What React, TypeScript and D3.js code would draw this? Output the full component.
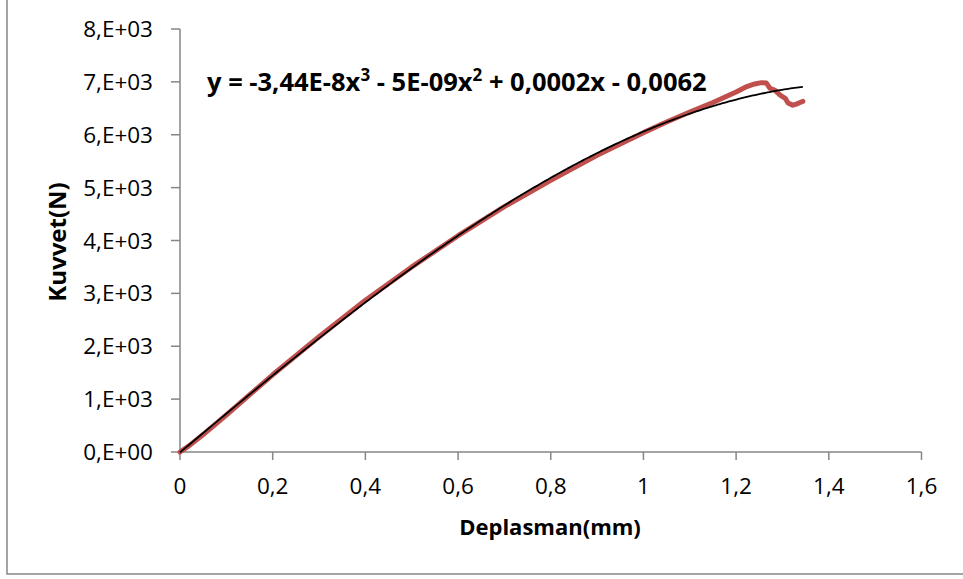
import React from "react";
import * as d3 from "d3";

// Measured series: displacement (mm) vs force (N)
const dispMm: number[] = [0, 0.02, 0.05, 0.1, 0.15, 0.2, 0.3, 0.4, 0.5, 0.6, 0.7, 0.8, 0.9, 1.0, 1.05, 1.1, 1.15, 1.2, 1.22, 1.24, 1.255, 1.265, 1.273, 1.284, 1.295, 1.306, 1.312, 1.322, 1.33, 1.338, 1.344];
const forceN: number[] = [0, 120, 330, 700, 1080, 1460, 2180, 2870, 3500, 4090, 4640, 5140, 5610, 6040, 6240, 6430, 6610, 6810, 6900, 6960, 6985, 6980, 6880, 6840, 6750, 6690, 6600, 6560, 6580, 6610, 6630];

const xTicks: number[] = [0, 0.2, 0.4, 0.6, 0.8, 1, 1.2, 1.4, 1.6];
const yTicks: number[] = [0, 1000, 2000, 3000, 4000, 5000, 6000, 7000, 8000];
const xTickLabels: string[] = ["0", "0,2", "0,4", "0,6", "0,8", "1", "1,2", "1,4", "1,6"];
const yTickLabels: string[] = ["0,E+00", "1,E+03", "2,E+03", "3,E+03", "4,E+03", "5,E+03", "6,E+03", "7,E+03", "8,E+03"];

const xTitle = "Deplasman(mm)";
const yTitle = "Kuvvet(N)";

// least-squares cubic trendline (as the spreadsheet computes it) over the resampled series
function cubicFit(xs: number[], ys: number[]): number[] {
  const n = 4;
  const A = Array.from({ length: n }, () => new Array(n + 1).fill(0));
  for (let k = 0; k < xs.length; k++) {
    const p = [1, xs[k], xs[k] ** 2, xs[k] ** 3];
    for (let i = 0; i < n; i++) {
      for (let j = 0; j < n; j++) A[i][j] += p[i] * p[j];
      A[i][n] += p[i] * ys[k];
    }
  }
  for (let i = 0; i < n; i++) {
    let piv = i;
    for (let r = i + 1; r < n; r++) if (Math.abs(A[r][i]) > Math.abs(A[piv][i])) piv = r;
    [A[i], A[piv]] = [A[piv], A[i]];
    for (let r = 0; r < n; r++) {
      if (r === i) continue;
      const f = A[r][i] / A[i][i];
      for (let c = i; c <= n; c++) A[r][c] -= f * A[i][c];
    }
  }
  return A.map((row, i) => row[n] / row[i]);
}

export default function App() {
  const W = 963, H = 579;
  const x = d3.scaleLinear().domain([0, 1.6]).range([180, 921.5]);
  const y = d3.scaleLinear().domain([0, 8000]).range([452, 29]);

  const interp = d3.scaleLinear().domain(dispMm).range(forceN);
  const xmax = dispMm[dispMm.length - 1];
  const rx = d3.range(0, 301).map(i => (i / 300) * xmax);
  const ry = rx.map(v => interp(v));
  const c = cubicFit(rx, ry);
  const trend = rx.map(v => [v, c[0] + c[1] * v + c[2] * v * v + c[3] * v * v * v] as [number, number]);

  const line = d3.line<[number, number]>().x(d => x(d[0])).y(d => y(d[1]));
  const dataPts = dispMm.map((v, i) => [v, forceN[i]] as [number, number]);

  const axisColor = "#868686";
  const font = "'Open Sans', Lato, sans-serif";

  return (
    <svg width={W} height={H} style={{ position: "absolute", left: 0, top: 0, background: "#fff" }}>
      <rect x={7} y={-10} width={990} height={584} fill="#fff" stroke={axisColor} strokeWidth={1.5} />
      {/* axes */}
      <line x1={x(0)} x2={x(0)} y1={y(8000)} y2={y(0)} stroke={axisColor} strokeWidth={1.5} />
      <line x1={x(0)} x2={x(1.6)} y1={y(0)} y2={y(0)} stroke={axisColor} strokeWidth={1.5} />
      {yTicks.map((t, i) => (
        <g key={"y" + i}>
          <line x1={x(0) - 9} x2={x(0)} y1={y(t)} y2={y(t)} stroke={axisColor} strokeWidth={1.5} />
          <text x={153} y={y(t) + 8} textAnchor="end" fontFamily={font} fontSize={22.5} fill="#000">{yTickLabels[i]}</text>
        </g>
      ))}
      {xTicks.map((t, i) => (
        <g key={"x" + i}>
          <line x1={x(t)} x2={x(t)} y1={y(0)} y2={y(0) + 8} stroke={axisColor} strokeWidth={1.5} />
          <text x={x(t)} y={494} textAnchor="middle" fontFamily={font} fontSize={22.5} fill="#000">{xTickLabels[i]}</text>
        </g>
      ))}
      {/* series */}
      <path d={line(dataPts) || ""} fill="none" stroke="#C0504D" strokeWidth={5} strokeLinejoin="round" strokeLinecap="round" />
      <path d={line(trend) || ""} fill="none" stroke="#000" strokeWidth={1.8} />
      {/* equation */}
      <text x={207} y={91} fontFamily={font} fontWeight="bold" fontSize={25.5} fill="#000">
        y = -3,44E-8x<tspan fontSize={17} dy={-10}>3</tspan><tspan dy={10}> - 5E-09x</tspan><tspan fontSize={17} dy={-10}>2</tspan><tspan dy={10}> + 0,0002x - 0,0062</tspan>
      </text>
      {/* titles */}
      <text x={550} y={535} textAnchor="middle" fontFamily={font} fontWeight="bold" fontSize={22} fill="#000">{xTitle}</text>
      <text transform={`translate(66,242) rotate(-90)`} textAnchor="middle" fontFamily={font} fontWeight="bold" fontSize={24} fill="#000">{yTitle}</text>
    </svg>
  );
}
